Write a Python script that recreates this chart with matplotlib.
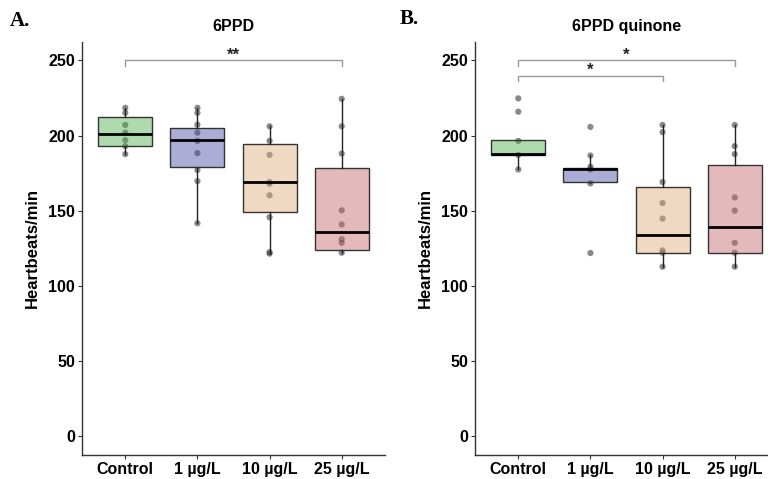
import matplotlib
matplotlib.use("Agg")
import matplotlib.pyplot as plt

plt.rcParams['font.family'] = ['Liberation Sans', 'DejaVu Sans']

categories = ["Control", "1 µg/L", "10 µg/L", "25 µg/L"]
yticks = [0, 50, 100, 150, 200, 250]

# Panel A (6PPD) points
a_points = [
    [218.5, 215.2, 207.1, 202.0, 197.0, 193.0, 187.7],
    [218.5, 215.2, 207.3, 202.0, 196.5, 188.4, 177.1, 169.7, 141.7],
    [206.2, 196.5, 187.2, 169.1, 168.0, 160.3, 145.7, 122.5, 121.5],
    [224.5, 206.2, 188.1, 150.3, 140.9, 131.1, 128.7, 122.1],
]
a_q1 = [193.2, 179.3, 149.3, 123.8]
a_med = [201.1, 197.0, 168.9, 136.2]
a_q3 = [212.7, 205.3, 194.7, 178.4]
a_lo = [187.7, 141.7, 121.5, 122.1]
a_hi = [218.5, 218.5, 206.2, 224.5]

# Panel B (6PPD quinone) points
b_points = [
    [224.8, 215.9, 196.5, 187.2, 177.5],
    [205.8, 186.8, 179.3, 177.5, 168.2, 121.9],
    [207.1, 202.3, 169.1, 155.2, 144.8, 123.6, 122.1, 112.8],
    [207.1, 193.0, 187.7, 158.9, 150.1, 128.7, 122.1, 112.8],
]
b_q1 = [187.4, 168.9, 122.1, 122.1]
b_med = [187.9, 177.5, 134.0, 139.3]
b_q3 = [197.0, 178.2, 165.6, 180.6]
b_lo = [177.5, 168.2, 112.8, 112.8]
b_hi = [197.0, 186.8, 207.1, 207.1]

# significance brackets: (start idx, end idx, y, label)
a_sig = [(0, 3, 250, "**")]
b_sig = [(0, 3, 250, "*"), (0, 2, 240, "*")]

colors = ["#4DAF4A", "#464BA8", "#DCAB79", "#C56569"]

W, H = 768, 479
fig = plt.figure(figsize=(W / 100, H / 100), dpi=100)

def px_rect(left, top, right, bottom):
    return [left / W, 1 - bottom / H, (right - left) / W, (bottom - top) / H]

def panel(ax, pts, q1, med, q3, lo, hi, sig, title):
    pos = list(range(1, len(categories) + 1))
    for i, p in enumerate(pts):
        ax.scatter([pos[i]] * len(p), p, s=20, color="#3a3a3a", alpha=0.6,
                   edgecolors="none", zorder=2)
    stats = []
    for i in range(len(categories)):
        stats.append(dict(med=med[i], q1=q1[i], q3=q3[i], whislo=lo[i],
                          whishi=hi[i], fliers=[]))
    bp = ax.bxp(stats, positions=pos, widths=0.75, patch_artist=True,
                showcaps=False, showfliers=False,
                boxprops=dict(edgecolor="#333333", linewidth=1.0),
                whiskerprops=dict(color="#222222", linewidth=1.0),
                medianprops=dict(color="black", linewidth=2.0),
                zorder=3)
    for patch, c in zip(bp['boxes'], colors):
        patch.set_facecolor(matplotlib.colors.to_rgba(c, 0.45))
    for (s, e, y, lab) in sig:
        x1, x2 = pos[s], pos[e]
        ax.plot([x1, x1, x2, x2], [y - 3.5, y, y, y - 3.5], color="#999999",
                lw=1.0, zorder=4, clip_on=False)
        ax.text((x1 + x2) / 2, y + 0.3, lab, ha="center", va="baseline",
                fontsize=12, fontweight="bold", color="#222222")
    ax.set_xlim(0.4, 4.6)
    ax.set_ylim(-12.5, 262.5)
    ax.set_xticks(pos)
    ax.set_xticklabels(categories)
    ax.set_yticks(yticks)
    for sp in ["top", "right"]:
        ax.spines[sp].set_visible(False)
    for sp in ["left", "bottom"]:
        ax.spines[sp].set_color("#333333")
        ax.spines[sp].set_linewidth(1.0)
    ax.tick_params(axis="both", length=3, width=0.8, color="#333333",
                   labelsize=11.5, pad=2)
    for lbl in ax.get_xticklabels() + ax.get_yticklabels():
        lbl.set_fontweight("bold")
        lbl.set_color("black")
    ax.set_ylabel("Heartbeats/min", fontsize=12, fontweight="bold", labelpad=6)
    ax.set_title(title, fontsize=11.5, fontweight="bold", pad=8)

axA = fig.add_axes(px_rect(82, 41.7, 385, 455))
axB = fig.add_axes(px_rect(475, 41.7, 778, 455))
panel(axA, a_points, a_q1, a_med, a_q3, a_lo, a_hi, a_sig, "6PPD")
panel(axB, b_points, b_q1, b_med, b_q3, b_lo, b_hi, b_sig, "6PPD quinone")

fig.text(10 / W, 1 - 26 / H, "A.", fontsize=15, fontweight="bold",
         family=["Liberation Serif", "DejaVu Serif"], ha="left", va="baseline")
fig.text(400 / W, 1 - 24 / H, "B.", fontsize=15, fontweight="bold",
         family=["Liberation Serif", "DejaVu Serif"], ha="left", va="baseline")

fig.savefig("out.png", dpi=100)
